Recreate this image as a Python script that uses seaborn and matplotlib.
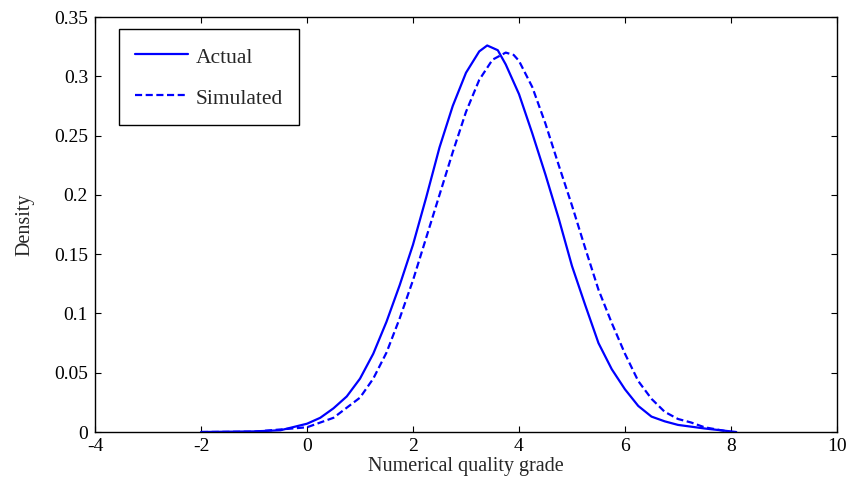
import numpy as np
import pandas as pd
import matplotlib
matplotlib.use("Agg")
import matplotlib.pyplot as plt
import seaborn as sns

# Kernel density estimates of the numerical quality grade
actual_x = [-2.0, -1.0, -0.5, 0.0, 0.25, 0.5, 0.75, 1.0, 1.25, 1.5, 1.75, 2.0, 2.25,
            2.5, 2.75, 3.0, 3.25, 3.4, 3.6, 3.75, 4.0, 4.25, 4.5, 4.75, 5.0, 5.25,
            5.5, 5.75, 6.0, 6.25, 6.5, 6.75, 7.0, 7.5, 8.1]
actual_y = [0.000, 0.0005, 0.0015, 0.007, 0.012, 0.020, 0.030, 0.045, 0.066, 0.093,
            0.124, 0.158, 0.198, 0.240, 0.275, 0.303, 0.321, 0.326, 0.322, 0.310,
            0.285, 0.252, 0.217, 0.180, 0.140, 0.107, 0.075, 0.053, 0.036, 0.022,
            0.013, 0.009, 0.006, 0.003, 0.000]

simulated_x = [-2.0, -1.0, 0.0, 0.5, 1.0, 1.25, 1.5, 1.75, 2.0, 2.25, 2.5, 2.75, 3.0,
               3.25, 3.5, 3.75, 3.9, 4.0, 4.25, 4.5, 4.75, 5.0, 5.25, 5.5, 5.75,
               6.0, 6.25, 6.5, 6.75, 7.0, 7.25, 7.5, 8.0]
simulated_y = [0.000, 0.0003, 0.004, 0.012, 0.029, 0.045, 0.067, 0.096, 0.128, 0.164,
               0.200, 0.236, 0.270, 0.297, 0.314, 0.320, 0.318, 0.313, 0.291, 0.260,
               0.225, 0.191, 0.155, 0.120, 0.092, 0.066, 0.043, 0.028, 0.017, 0.011,
               0.008, 0.004, 0.000]

x_ticks = [-4, -2, 0, 2, 4, 6, 8, 10]
y_ticks = [0, 0.05, 0.1, 0.15, 0.2, 0.25, 0.3, 0.35]
y_tick_labels = ["0", "0.05", "0.1", "0.15", "0.2", "0.25", "0.3", "0.35"]

sns.set_style("ticks")
plt.rcParams["font.family"] = ["Liberation Serif", "DejaVu Serif"]
plt.rcParams["xtick.direction"] = "in"
plt.rcParams["ytick.direction"] = "in"

fig = plt.figure(figsize=(8.53, 4.78), dpi=100)
ax = fig.add_axes([0.1114, 0.0962, 0.8698, 0.8682])

df_a = pd.DataFrame({"grade": actual_x, "density": actual_y})
df_s = pd.DataFrame({"grade": simulated_x, "density": simulated_y})

sns.lineplot(data=df_a, x="grade", y="density", ax=ax, color="#0000ff",
             linewidth=1.6, label="Actual", sort=False)
sns.lineplot(data=df_s, x="grade", y="density", ax=ax, color="#0000ff",
             linewidth=1.6, linestyle=(0, (3.2, 1.6)), label="Simulated", sort=False)

ax.set_xlim(-4, 10)
ax.set_ylim(0, 0.35)
ax.set_xticks(x_ticks)
ax.set_xticklabels([str(t) for t in x_ticks])
ax.set_yticks(y_ticks)
ax.set_yticklabels(y_tick_labels)
ax.tick_params(axis="both", labelsize=14, length=4, width=0.8, top=True, right=True,
               colors="black")
ax.tick_params(axis="x", pad=4)
ax.tick_params(axis="y", pad=5)
for s in ax.spines.values():
    s.set_visible(True)
    s.set_linewidth(1.0)
    s.set_color("black")

ax.set_xlabel("Numerical quality grade", fontsize=14.5, labelpad=2)
ax.set_ylabel("Density", fontsize=14.5, labelpad=14)

leg = ax.legend(loc="upper left", bbox_to_anchor=(0.0323, 0.971), borderaxespad=0,
                fontsize=15.5, handlelength=2.45, handleheight=1.2, labelspacing=0.8,
                borderpad=0.75, handletextpad=0.35, fancybox=False, framealpha=1)
leg.get_frame().set_edgecolor("black")
leg.get_frame().set_linewidth(1.0)

fig.savefig("out.png", dpi=100)
